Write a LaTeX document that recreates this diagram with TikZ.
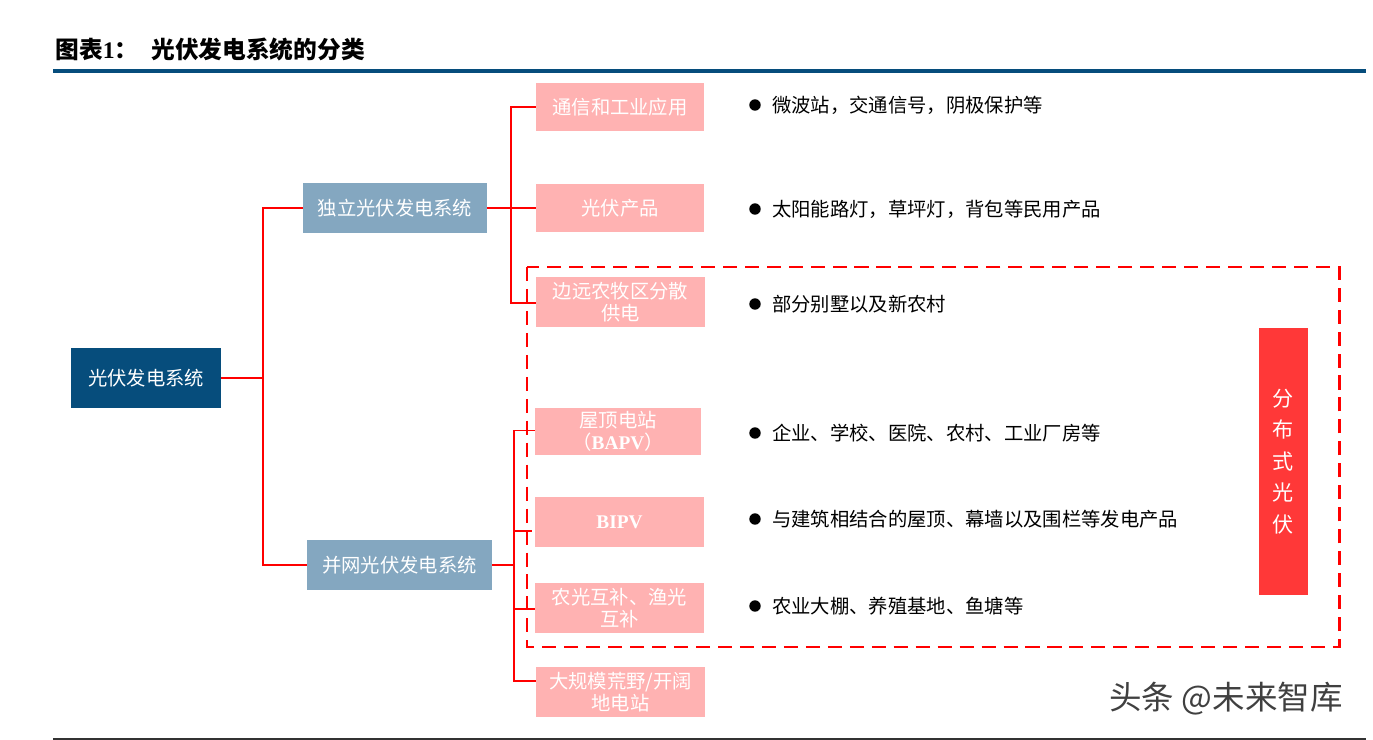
\documentclass[tikz,border=0pt]{standalone}
\usepackage{fontspec}
\setmainfont{Noto Sans CJK SC}
\newfontfamily\latserif{Liberation Serif}
\usetikzlibrary{positioning, calc}

\definecolor{navy}{HTML}{064D7C}
\definecolor{steel}{HTML}{84A7C0}
\definecolor{rose}{HTML}{FFB2B2}
\definecolor{alarm}{HTML}{FF3838}
\definecolor{wire}{HTML}{FF0000}

\tikzset{
  box/.style={fill=#1, text=white, align=center, inner sep=1pt,
              font=\fontsize{11pt}{12.5pt}\selectfont},
  link/.style={draw=wire, line width=1.1pt},
  item/.style={anchor=west, font=\fontsize{11pt}{13pt}\selectfont},
  dot/.style={circle, fill=black, inner sep=0pt, minimum size=6.5pt}
}

\begin{document}
\begin{tikzpicture}[x=0.02cm, y=-0.02cm]
  \useasboundingbox (0,0) rectangle (1373,740);

  % Title and rules
  \node[anchor=west, inner sep=0pt, font=\fontsize{13.5pt}{15pt}\selectfont\bfseries] (title) at (55,49)
    {图表{\latserif 1}：\hspace{0.55em}光伏发电系统的分类};
  \draw[navy, line width=2.3pt] (53,71) -- (1366,71);
  \draw[black!80, line width=0.6pt] (53,739) -- (1366,739);

  % Root and second level
  \node[box=navy, minimum width=150*0.567pt, minimum height=61*0.567pt] (root) at (146,378) {光伏发电系统};
  \node[box=steel, minimum width=184*0.567pt, minimum height=50*0.567pt] (alone) at (395,208) {独立光伏发电系统};
  \node[box=steel, minimum width=185*0.567pt, minimum height=50*0.567pt] (grid) at (399.5,565) {并网光伏发电系统};

  % Off-grid branches
  \node[box=rose, minimum width=168*0.567pt, minimum height=48*0.567pt] (telecom) at (620,107) {通信和工业应用};
  \node[box=rose, minimum width=168*0.567pt, minimum height=48*0.567pt] (product) at (620,208) {光伏产品};
  \node[box=rose, minimum width=169*0.567pt, minimum height=50*0.567pt] (remote) at (620.5,302) {边远农牧区分散\\供电};

  % Grid branches
  \node[box=rose, minimum width=166*0.567pt, minimum height=47*0.567pt] (roof) at (618,431.5)
    {屋顶电站\\（{\latserif\bfseries BAPV}）};
  \node[box=rose, minimum width=169*0.567pt, minimum height=50*0.567pt] (bipv) at (619.5,522)
    {\latserif\bfseries BIPV};
  \node[box=rose, minimum width=169*0.567pt, minimum height=50*0.567pt] (agri) at (619.5,608) {农光互补、渔光\\互补};
  \node[box=rose, minimum width=169*0.567pt, minimum height=50*0.567pt] (field) at (620.5,692) {大规模荒野/开阔\\地电站};

  % Junctions
  \coordinate (j0) at (263,0);
  \coordinate (j1) at (511,0);
  \coordinate (j2) at (514,0);

  % Connectors
  \draw[link] (root.east) -- (root.east -| j0) |- (alone.west);
  \draw[link] (root.east -| j0) |- (grid.west);
  \draw[link] (alone.east) -- (alone.east -| j1) |- (telecom.west);
  \draw[link] (alone.east -| j1) |- (product.west);
  \draw[link] (alone.east -| j1) |- ([yshift=-1*0.567pt]remote.west);
  \draw[link] (grid.east) -- (grid.east -| j2) |- ([yshift=1*0.567pt]roof.west);
  \draw[link] (grid.east -| j2) |- ([xshift=-3*0.567pt, yshift=-9*0.567pt]bipv.west);
  \draw[link] (grid.east -| j2) |- ([yshift=-1*0.567pt]agri.west);
  \draw[link] (grid.east -| j2) |- ([yshift=11*0.567pt]field.west);

  % Distributed PV frame
  \draw[wire, line width=1.7pt, dash pattern=on 8pt off 4.5pt] (527,267) rectangle (1339,647);
  \node[fill=alarm, text=white, minimum width=49*0.567pt, minimum height=269*0.567pt,
        align=center, inner sep=0pt, font=\fontsize{12pt}{18pt}\selectfont] (dist) at (1283.5,461.5)
    {分\\布\\式\\光\\伏};

  % Bullet descriptions
  \foreach \n/\yy/\txt in {d1/105/{微波站，交通信号，阴极保护等},
                           d2/209/{太阳能路灯，草坪灯，背包等民用产品},
                           d3/304/{部分别墅以及新农村},
                           d4/433/{企业、学校、医院、农村、工业厂房等},
                           d5/519/{与建筑相结合的屋顶、幕墙以及围栏等发电产品},
                           d6/606/{农业大棚、养殖基地、鱼塘等}} {
    \node[dot] (\n b) at (755,\yy) {};
    \node[item] (\n) at (766,\yy) {\txt};
  }

  % Watermark
  \node[text=black!75, font=\fontsize{18.5pt}{20pt}\selectfont] (mark) at (1226,699) {头条 @未来智库};
\end{tikzpicture}
\end{document}
